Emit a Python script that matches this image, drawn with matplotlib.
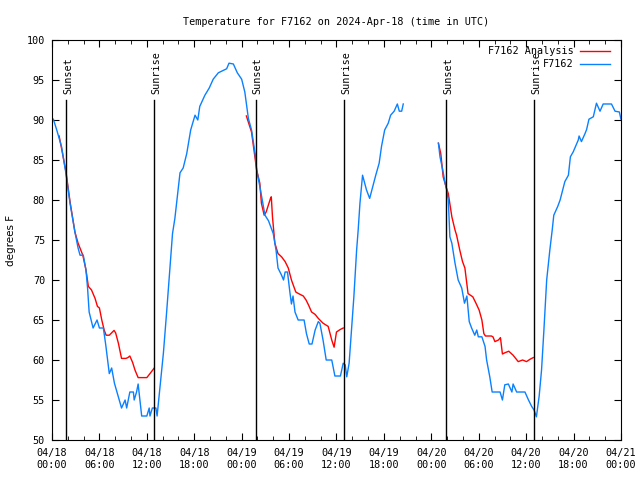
import numpy as np
import matplotlib
matplotlib.use("Agg")
import matplotlib.pyplot as plt

# hours since 2024-04-18 00:00 UTC
obs_hours = [0.17, 0.6, 1.2, 1.77, 2.28, 2.9, 3.3, 3.55, 3.96, 4.3, 4.5, 4.7, 5.2, 5.7, 6.0, 6.5,
             6.8, 7.25, 7.55, 7.9, 8.25, 8.8, 9.25, 9.45, 9.85, 10.3, 10.4, 10.7, 10.9, 11.35,
             12.0, 12.3, 12.4, 12.7, 13.15, 13.3, 13.6, 14.1, 14.5, 14.9, 15.25, 15.55, 16.2,
             16.6, 17.05, 17.55, 18.1, 18.45, 18.7, 19.35, 19.9, 20.4, 21.05, 22.1, 22.4, 22.95,
             23.45, 24.0, 24.4, 24.85, 25.25, 25.7, 25.9, 26.3, 26.75, 26.95, 27.4, 28.0, 28.35,
             28.6, 29.05, 29.3, 29.5, 29.8, 30.1, 30.3, 30.5, 30.75, 31.15, 31.9, 32.2, 32.55,
             32.9, 33.3, 33.7, 33.9, 34.3, 34.7, 35.4, 35.8, 36.5, 36.85, 37.1, 37.3, 37.6,
             37.9, 38.2, 38.55, 38.75, 38.97, 39.3, 39.8, 40.2, 40.65, 40.97, 41.4, 41.7, 42.1,
             42.55, 42.85, 43.3, 43.7, 43.95, 44.25, 44.45,
             44.6,
             48.9, 49.1, 49.45, 49.75, 49.95, 50.15, 50.35, 50.6, 51.0, 51.4, 51.85, 52.2, 52.5,
             52.8, 53.1, 53.5, 53.75, 53.95, 54.4, 54.8, 55.0, 55.4, 55.7, 56.7, 57.0, 57.3,
             57.75, 58.2, 58.35, 58.8, 59.85, 60.3, 60.7, 61.0, 61.3, 61.65, 61.95, 62.25, 62.6,
             63.0, 63.3, 63.5, 64.0, 64.3, 64.9, 65.35, 65.6, 65.95, 66.6, 66.7, 67.0, 67.45,
             67.65, 67.95, 68.5, 68.9, 69.35, 69.75, 70.8, 71.25, 71.8, 72.0]
obs_temps = [90.1, 88.75, 86.7, 83.3, 79.6, 76.0, 74.0, 73.1, 73.1, 71.25, 69.0, 66.0, 64.0, 65.0,
             64.0, 64.0, 61.9, 58.3, 59.0, 57.1, 55.9, 54.0, 55.0, 54.0, 56.0, 56.0, 55.0, 56.0,
             57.0, 53.0, 53.0, 54.0, 53.0, 54.0, 54.0, 53.0, 56.0, 60.9, 65.9, 71.25, 75.8, 77.7,
             83.4, 84.0, 85.8, 88.75, 90.6, 90.0, 91.7, 93.1, 94.0, 95.1, 95.9, 96.4, 97.1, 97.0,
             95.9, 95.1, 93.5, 90.2, 88.75, 85.8, 83.75, 81.7, 79.2, 78.1, 77.4, 75.8, 73.75,
             71.5, 70.6, 70.0, 71.0, 71.0, 68.5, 67.0, 68.0, 66.0, 65.0, 65.0, 63.3, 62.0, 62.0,
             63.75, 64.8, 64.6, 62.5, 60.0, 60.0, 58.0, 58.0, 59.6, 59.4, 57.9, 59.6, 63.75, 67.9,
             73.75, 76.3, 79.6, 83.1, 81.25, 80.2, 81.9, 83.1, 84.6, 86.7, 88.75, 89.6, 90.6,
             91.1, 92.0, 91.1, 91.1, 92.0,
             np.nan,
             87.1, 85.4, 83.75, 82.1, 81.25, 80.0, 75.4, 74.6, 72.1, 70.0, 69.0, 67.1, 68.0, 64.8,
             64.0, 63.1, 63.75, 62.9, 62.9, 61.7, 60.0, 57.9, 56.0, 56.0, 55.0, 56.9, 57.0, 56.0,
             57.0, 56.0, 56.0, 55.0, 54.2, 53.75, 52.9, 55.5, 58.75, 63.75, 70.0, 73.75, 76.25,
             78.1, 79.2, 80.0, 82.3, 83.1, 85.4, 86.0, 87.5, 88.0, 87.3, 88.3, 88.8, 90.1, 90.4,
             92.1, 91.1, 92.0, 92.0, 91.1, 91.0, 90.1]

ana_hours = [0.9, 1.2, 1.77, 2.28, 2.9, 3.3, 3.9, 4.3, 4.6, 5.0, 5.45, 5.75, 6.0, 6.3, 6.6, 6.85,
             7.25, 7.85, 8.05, 8.4, 8.8, 9.35, 9.6, 9.85, 10.2, 10.5, 10.9, 12.0, 12.4, 12.9,
             13.0,
             24.6, 25.25, 25.9, 26.3, 26.5, 26.85, 27.1, 27.65, 27.75, 27.9, 28.2, 28.6, 29.05,
             29.5, 29.9, 30.3, 30.85, 31.2, 31.8, 32.15, 32.45, 32.85, 33.3, 33.7, 33.9, 34.3,
             34.95, 35.4, 35.7, 36.0, 36.45, 36.85,
             37.0,
             48.9, 49.2, 49.5, 49.85, 50.15, 50.6, 51.0, 51.2, 51.6, 51.95, 52.25, 52.65, 53.25,
             53.65, 54.05, 54.4, 54.65, 54.85, 55.6, 55.8, 56.05, 56.5, 56.75, 57.0, 57.3, 57.8,
             58.35, 59.0, 59.55, 59.8, 60.05, 60.5, 60.9]
ana_temps = [88.0, 86.5, 83.5, 79.8, 76.0, 74.6, 73.1, 71.25, 69.2, 68.75, 67.7, 66.7, 66.5, 65.0,
             63.75, 63.1, 63.1, 63.7, 63.4, 62.1, 60.2, 60.2, 60.3, 60.5, 59.7, 58.75, 57.8, 57.8,
             58.3, 58.95,
             np.nan,
             90.5, 88.5, 83.75, 82.1, 79.6, 78.1, 78.5, 80.2, 80.4, 77.9, 74.6, 73.3, 72.9, 72.3,
             71.5, 70.0, 68.5, 68.3, 68.0, 67.5, 66.9, 66.0, 65.7, 65.2, 65.0, 64.6, 64.2, 62.5,
             61.6, 63.5, 63.8, 64.0,
             np.nan,
             87.1, 85.8, 82.9, 81.7, 80.8, 77.9, 76.25, 75.6, 73.75, 72.3, 71.5, 68.3, 67.9, 67.1,
             66.25, 65.0, 63.3, 63.0, 63.0, 62.9, 62.3, 62.5, 62.8, 60.75, 60.9, 61.1, 60.6, 59.8,
             60.0, 59.9, 59.8, 60.1, 60.3]

event_hours = [1.77, 12.9, 25.8, 36.95, 49.9, 61.0]
event_names = ["Sunset", "Sunrise", "Sunset", "Sunrise", "Sunset", "Sunrise"]

tick_hours = [0, 6, 12, 18, 24, 30, 36, 42, 48, 54, 60, 66, 72]
tick_labels = ["04/18\n00:00", "04/18\n06:00", "04/18\n12:00", "04/18\n18:00",
               "04/19\n00:00", "04/19\n06:00", "04/19\n12:00", "04/19\n18:00",
               "04/20\n00:00", "04/20\n06:00", "04/20\n12:00", "04/20\n18:00",
               "04/21\n00:00"]

mono = "DejaVu Sans Mono"
fs = 7.3

fig = plt.figure(figsize=(6.4, 4.8), dpi=100)
ax = fig.add_axes([0.08125, 0.0833, 0.889, 0.8334])

ax.plot(ana_hours, ana_temps, color="#ff0000", lw=1, label="F7162 Analysis")
ax.plot(obs_hours, obs_temps, color="#0a80ff", lw=1, label="F7162")

for h, name in zip(event_hours, event_names):
    ax.plot([h, h], [50, 92.5], color="black", lw=1)
    ax.text(h + 0.25, 93.3, name, rotation=90, ha="center", va="bottom",
            family=mono, fontsize=fs)

ax.set_xlim(0, 72)
ax.set_ylim(50, 100)
ax.set_xticks(tick_hours)
ax.set_xticklabels(tick_labels, family=mono, fontsize=fs)
ax.set_xticks(np.arange(0, 73, 2), minor=True)
ax.set_yticks(range(50, 101, 5))
ax.set_yticklabels([str(v) for v in range(50, 101, 5)], family=mono, fontsize=fs)
ax.tick_params(which="both", direction="in", top=True, right=True)
ax.tick_params(which="major", length=5)
ax.tick_params(which="minor", length=3)
ax.tick_params(axis="x", pad=6)
ax.tick_params(axis="y", pad=5)

ax.set_ylabel("degrees F", fontsize=7.5, labelpad=8)
ax.set_title("Temperature for F7162 on 2024-Apr-18 (time in UTC)", family=mono, fontsize=fs, pad=11)

ax.legend(loc="upper right", bbox_to_anchor=(0.992, 1.0), frameon=False, markerfirst=False,
          prop={"family": mono, "size": fs}, handlelength=3, borderaxespad=0.2,
          labelspacing=0.3, handletextpad=0.6)

fig.savefig("out.png", dpi=100)
